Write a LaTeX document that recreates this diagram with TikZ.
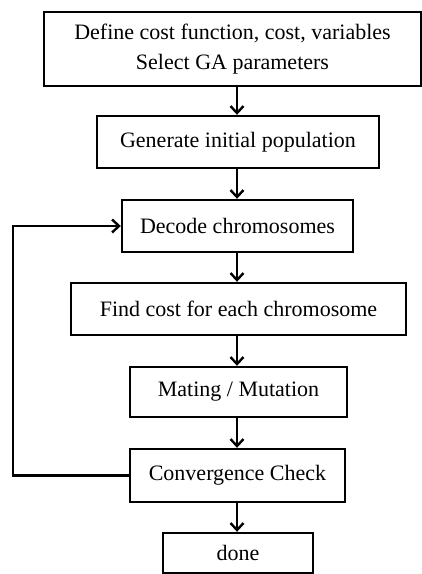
\documentclass[tikz,border=0pt]{standalone}
\usepackage{fontspec}
\setmainfont{Liberation Serif}
\usetikzlibrary{arrows.meta}
\begin{document}
\begin{tikzpicture}[x=1pt,y=-1pt,
  stepbox/.style={draw, line width=2.4pt, inner sep=0pt, align=center, font=\fontsize{22}{30}\selectfont},
  flow/.style={line width=2.4pt, -{Straight Barb[length=7pt,width=13pt,line width=2.4pt]}}]
\useasboundingbox (0,0) rectangle (422,574);
\node[stepbox, minimum width=377pt, minimum height=74pt] (b1) at (232.5,49) {Define cost function, cost, variables\\Select GA parameters};
\node[stepbox, minimum width=282pt, minimum height=52pt] (b2) at (238,142) {Generate initial population};
\node[stepbox, minimum width=231pt, minimum height=52pt] (b3) at (237.5,226) {Decode chromosomes};
\node[stepbox, minimum width=335pt, minimum height=52pt] (b4) at (238.5,309) {Find cost for each chromosome};
\node[stepbox, minimum width=217pt, minimum height=50pt] (b5) at (238.5,392) {Mating / Mutation};
\node[stepbox, minimum width=215pt, minimum height=53pt] (b6) at (237.5,475.5) {Convergence Check};
\node[stepbox, minimum width=150pt, minimum height=40pt] (b7) at (238,553) {done};
\coordinate (ax) at (237,0);
\coordinate (lx) at (13,0);
\draw[flow] (b1.south -| ax) -- (b2.north -| ax);
\draw[flow] (b2.south -| ax) -- (b3.north -| ax);
\draw[flow] (b3.south -| ax) -- (b4.north -| ax);
\draw[flow] (b4.south -| ax) -- (b5.north -| ax);
\draw[flow] (b5.south -| ax) -- (b6.north -| ax);
\draw[flow] (b6.south -| ax) -- (b7.north -| ax);
\draw[flow, line join=miter] (b6.west) -- (b6.west -| lx) -- (b3.west -| lx) -- (b3.west);
\end{tikzpicture}
\end{document}
